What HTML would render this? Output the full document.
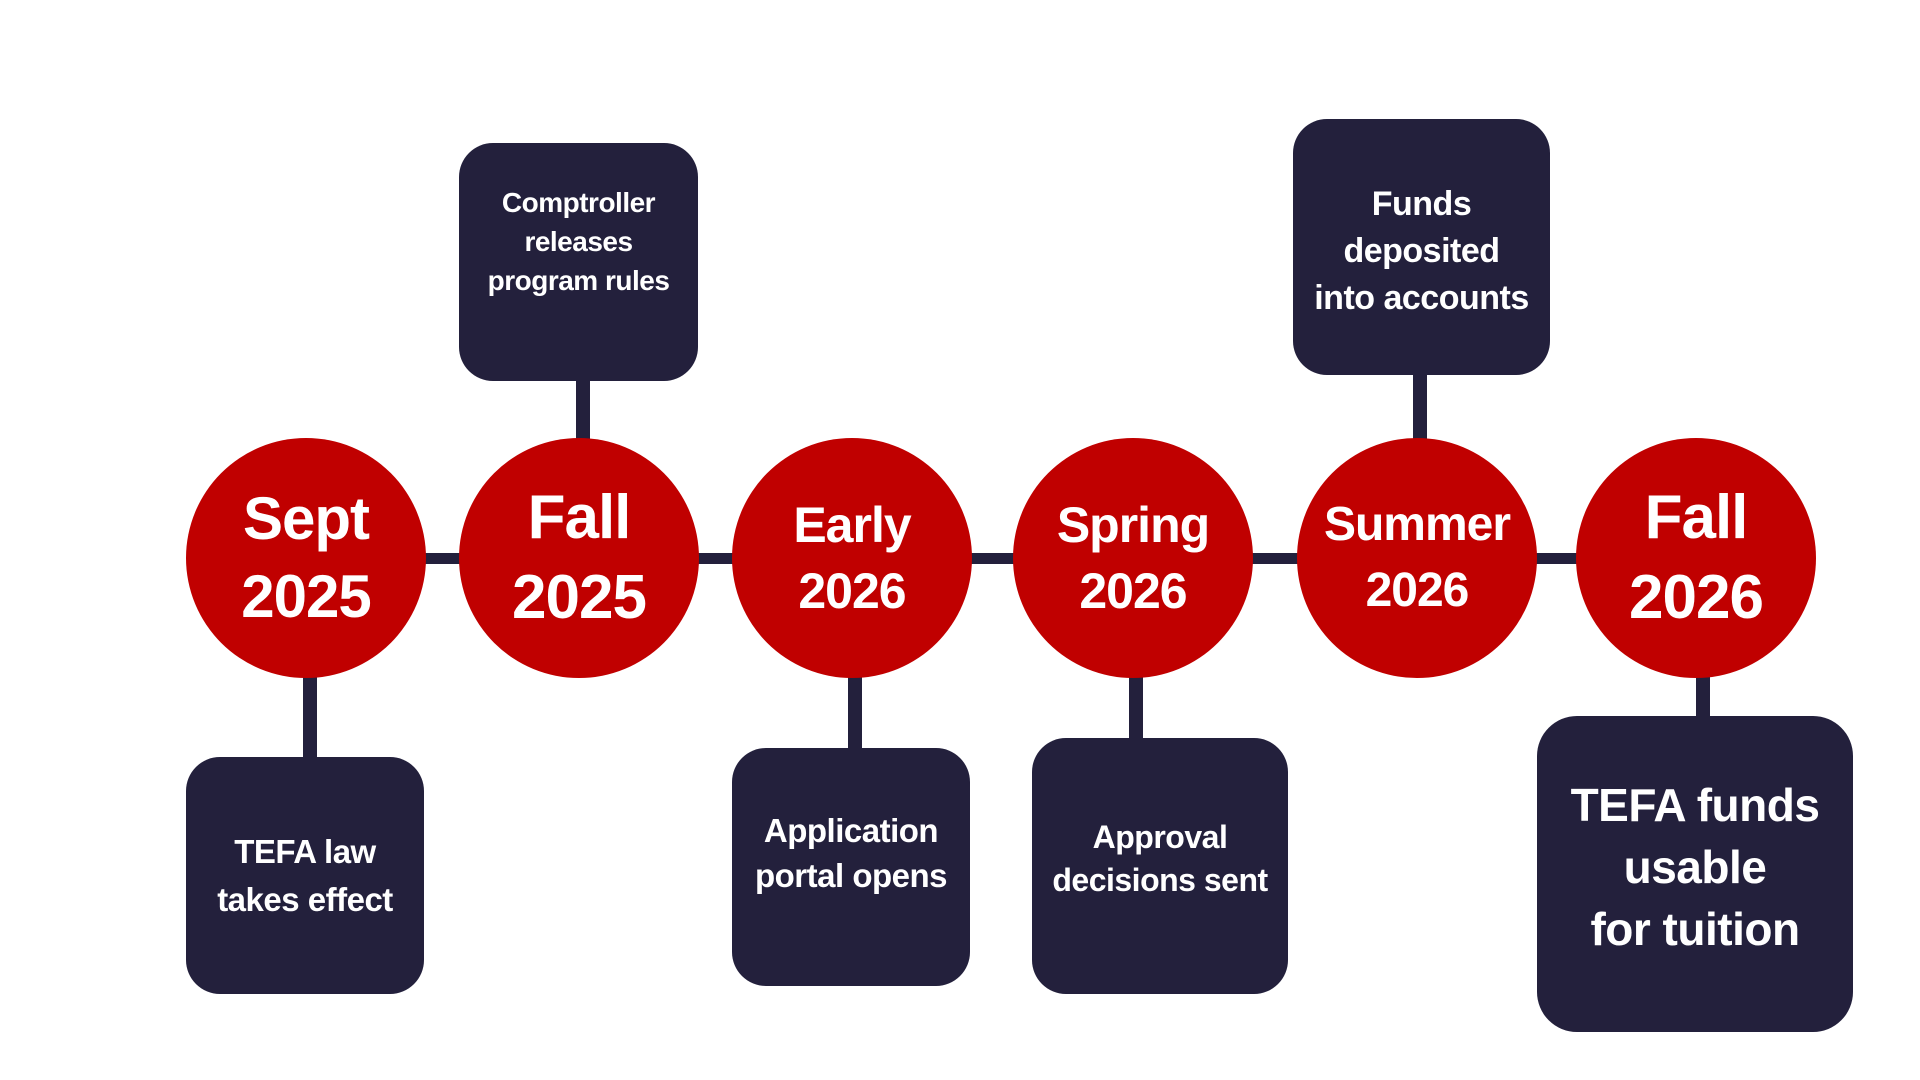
<!DOCTYPE html>
<html><head><meta charset="utf-8"><style>
body{margin:0;width:1920px;height:1080px;background:#fff;position:relative;overflow:hidden;font-family:"Liberation Sans",sans-serif;font-weight:bold}
.c{position:absolute;width:240px;height:240px;border-radius:50%;background:#c00000;color:#fff;display:flex;align-items:center;justify-content:center;text-align:center;letter-spacing:-1px}
.b{position:absolute;background:#23203c;color:#fff;border-radius:34px;display:flex;align-items:center;justify-content:center;text-align:center;letter-spacing:-0.5px}
.l{position:absolute;background:#23203c}
</style></head><body>
<div class="l" style="left:306px;top:553px;width:1390px;height:11px"></div>
<div class="l" style="left:303px;top:660px;width:14px;height:100px"></div>
<div class="l" style="left:576px;top:375px;width:14px;height:70px"></div>
<div class="l" style="left:848px;top:670px;width:14px;height:80px"></div>
<div class="l" style="left:1129px;top:670px;width:14px;height:70px"></div>
<div class="l" style="left:1413px;top:370px;width:14px;height:75px"></div>
<div class="l" style="left:1696px;top:670px;width:14px;height:50px"></div>

<div class="c" style="left:186px;top:438px;font-size:60px;line-height:78px">Sept<br>2025</div>
<div class="c" style="left:459px;top:438px;font-size:62px;line-height:80px">Fall<br>2025</div>
<div class="c" style="left:732px;top:438px;font-size:50px;line-height:66px">Early<br>2026</div>
<div class="c" style="left:1013px;top:438px;font-size:50px;line-height:66px">Spring<br>2026</div>
<div class="c" style="left:1297px;top:438px;font-size:48px;line-height:66px">Summer<br>2026</div>
<div class="c" style="left:1576px;top:438px;font-size:62px;line-height:80px">Fall<br>2026</div>

<div class="b" style="left:186px;top:757px;width:238px;height:237px;font-size:33px;line-height:48px">TEFA law<br>takes effect</div>
<div class="b" style="left:459px;top:143px;width:239px;height:238px;font-size:28px;line-height:39px;align-items:flex-start;padding-top:40px;box-sizing:border-box">Comptroller<br>releases<br>program rules</div>
<div class="b" style="left:732px;top:748px;width:238px;height:238px;font-size:33px;line-height:45px;align-items:flex-start;padding-top:60px;box-sizing:border-box">Application<br>portal opens</div>
<div class="b" style="left:1032px;top:738px;width:256px;height:256px;font-size:32px;line-height:43px;align-items:flex-start;padding-top:78px;box-sizing:border-box">Approval<br>decisions sent</div>
<div class="b" style="left:1293px;top:119px;width:257px;height:256px;font-size:34px;line-height:47px;align-items:flex-start;padding-top:62px;box-sizing:border-box">Funds<br>deposited<br>into accounts</div>
<div class="b" style="left:1537px;top:716px;width:316px;height:316px;font-size:46px;line-height:62px;align-items:flex-start;padding-top:58px;box-sizing:border-box;border-radius:40px">TEFA funds<br>usable<br>for tuition</div>
</body></html>
